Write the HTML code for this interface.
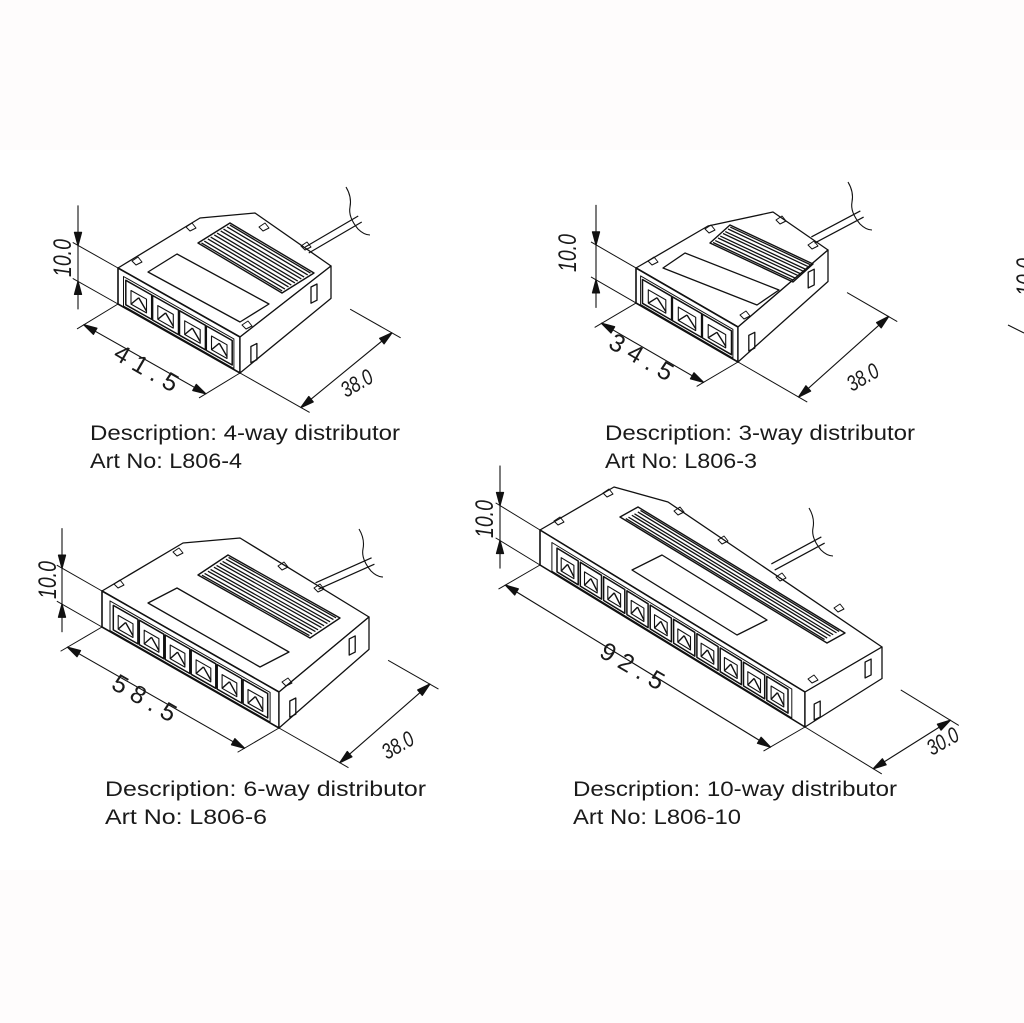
<!DOCTYPE html>
<html><head><meta charset="utf-8"><style>
html,body{margin:0;padding:0;background:#fff;}
svg{display:block}
text{font-family:"Liberation Sans",sans-serif;fill:#1a1a1a}
</style></head><body>
<svg id="s" width="1024" height="1023" viewBox="0 0 1024 1023" xmlns="http://www.w3.org/2000/svg">
<rect x="0" y="0" width="1024" height="150" fill="#fefcfc"/>
<rect x="0" y="870" width="1024" height="153" fill="#fefcfc"/>
<g id="g" stroke="#111" fill="none" stroke-width="1.3" stroke-linejoin="round"></g>
<g font-size="21">
<text x="90" y="440" textLength="310" lengthAdjust="spacingAndGlyphs">Description: 4-way distributor</text>
<text x="90" y="468" textLength="152" lengthAdjust="spacingAndGlyphs">Art No: L806-4</text>
<text x="605" y="440" textLength="310" lengthAdjust="spacingAndGlyphs">Description: 3-way distributor</text>
<text x="605" y="468" textLength="152" lengthAdjust="spacingAndGlyphs">Art No: L806-3</text>
<text x="105" y="796" textLength="321" lengthAdjust="spacingAndGlyphs">Description: 6-way distributor</text>
<text x="105" y="824" textLength="162" lengthAdjust="spacingAndGlyphs">Art No: L806-6</text>
<text x="573" y="796" textLength="324" lengthAdjust="spacingAndGlyphs">Description: 10-way distributor</text>
<text x="573" y="824" textLength="168" lengthAdjust="spacingAndGlyphs">Art No: L806-10</text>
</g>
<g font-size="25" font-style="italic">
<text transform="translate(71,277) rotate(-90) scale(0.78,1)">10.0</text>
<text transform="translate(576,272) rotate(-90) scale(0.78,1)">10.0</text>
<text transform="translate(56,599) rotate(-90) scale(0.78,1)">10.0</text>
<text transform="translate(493,538) rotate(-90) scale(0.78,1)">10.0</text>
<text transform="translate(1034,296) rotate(-90) scale(0.78,1)">10.0</text>
</g>
<g font-size="22" font-style="italic">
<text transform="translate(346,398) rotate(-30) scale(0.78,1)">38.0</text>
<text transform="translate(852,392) rotate(-30) scale(0.78,1)">38.0</text>
<text transform="translate(387,760) rotate(-30) scale(0.78,1)">38.0</text>
<text transform="translate(932,756) rotate(-30) scale(0.78,1)">30.0</text>
</g>
<g font-size="25">
<text transform="translate(112,358) rotate(30)" letter-spacing="7">41.5</text>
<text transform="translate(607,347) rotate(30)" letter-spacing="7">34.5</text>
<text transform="translate(110,688) rotate(30)" letter-spacing="7">58.5</text>
<text transform="translate(598,656) rotate(30)" letter-spacing="7">92.5</text>
</g>
</svg>
<script>
var g=document.getElementById('g');
function el(t,a){var e=document.createElementNS('http://www.w3.org/2000/svg',t);for(var k in a)e.setAttribute(k,a[k]);g.appendChild(e);return e;}
function add(){var r=[0,0];for(var i=0;i<arguments.length;i++){r[0]+=arguments[i][0];r[1]+=arguments[i][1];}return r;}
function mul(v,s){return [v[0]*s,v[1]*s];}
function nrm(v){var l=Math.hypot(v[0],v[1]);return [v[0]/l,v[1]/l];}
function poly(pts,extra){var a={points:pts.map(function(p){return p[0].toFixed(1)+','+p[1].toFixed(1)}).join(' ')};for(var k in extra)a[k]=extra[k];return el('polygon',a);}
function line(a,b,w){return el('line',{x1:a[0],y1:a[1],x2:b[0],y2:b[1],'stroke-width':w||1.1});}
function arrow(tip,from){var dx=tip[0]-from[0],dy=tip[1]-from[1],L=Math.hypot(dx,dy);dx/=L;dy/=L;var l=13,w=3.5;
 var b=[tip[0]-dx*l,tip[1]-dy*l];poly([tip,[b[0]-dy*w,b[1]+dx*w],[b[0]+dy*w,b[1]-dx*w]],{fill:'#111'});}
function dim(a,b){line(a,b,1.1);arrow(a,b);arrow(b,a);}
function para(o,u,d){return [o,add(o,u),add(o,u,d),add(o,d)];}
function unit(p){
 var A=p.A,B=p.B,h=p.h,H=[0,h],W=[B[0]-A[0],B[1]-A[1]];
 var Ah=add(A,H),Bh=add(B,H),Cb=p.Cb,Cbh=add(Cb,[0,h*0.9]);
 poly([A,B,Cb,p.M,p.E],{fill:'#fff','stroke-width':1.3});
 poly([A,B,Bh,Ah],{fill:'#fff','stroke-width':1.6});
 poly([B,Cb,Cbh,Bh],{fill:'#fff','stroke-width':1.3});
 var f=function(u,v){return add(A,mul(W,u),[0,h*v]);};
 var RD=[Cb[0]-B[0],Cb[1]-B[1]];
 var r1=add(B,mul(RD,0.12)),r2=add(B,mul(RD,0.78));
 poly([add(r1,[0,h*0.5]),add(r1,[6,h*0.5-3]),add(r1,[6,h*0.95-3]),add(r1,[0,h*0.95])]);
 poly([add(r2,[0,h*0.15]),add(r2,[6,h*0.15-3]),add(r2,[6,h*0.6-3]),add(r2,[0,h*0.6])]);
 var n=p.n,u0=0.06,u1=0.94,cw=(u1-u0)/n;
 poly([f(u0-0.015,0.15),f(u1+0.01,0.15),f(u1+0.01,0.97),f(u0-0.015,0.97)],{'stroke-width':1});
 for(var i=0;i<n;i++){var a=u0+i*cw+0.004,b=u0+(i+1)*cw-0.004;
  poly([f(a,0.22),f(b,0.22),f(b,0.9),f(a,0.9)],{'stroke-width':1.5});
  var m=(a+b)/2,q=(b-a)*0.3;
  poly([f(m-q,0.42),f(m+q,0.42),f(m+q,0.8),f(m-q,0.8)],{'stroke-width':1.1});
  line(f(m-q,0.8),f(m,0.5),1.4);line(f(m,0.5),f(m+q,0.75),1.4);}
 poly(para(p.l0,p.lu,p.ld));
 poly(para(p.g0,p.gu,p.gd),{'stroke-width':1.4});
 var k=p.gk;for(var j=1;j<=k;j++){var v=(j-0.5)/k,dv=0.22/k;
  var s1=add(p.g0,mul(p.gd,v-dv)),s2=add(p.g0,mul(p.gd,v+dv));
  line(add(s1,mul(p.gu,0.02)),add(s1,mul(p.gu,0.98)),1.3);line(add(s2,mul(p.gu,0.02)),add(s2,mul(p.gu,0.98)),1.3);}
 p.tabs.forEach(function(c){poly([add(c,[-4,-1]),add(c,[2,-5]),add(c,[6,0]),add(c,[0,3])],{'stroke-width':1});});
 var cs=p.c0,ce=p.c1,cn=nrm([ce[0]-cs[0],ce[1]-cs[1]]),pp=[-cn[1]*3.5,cn[0]*3.5];
 line(add(cs,pp),add(ce,pp),1.2);line(add(cs,mul(pp,-1)),add(ce,mul(pp,-1)),1.2);
 el('path',{d:'M'+(ce[0]-14)+','+(ce[1]-32)+' q6,10 4,20 q-2,10 8,22 q6,6 12,6','stroke-width':1.1});
 // height dim
 var Wn=nrm(W),x=A[0]-40,t1=A[1]-40*Wn[1]/Wn[0],t2=t1+h;
 line(A,add(A,mul(Wn,-52)),1);line(Ah,add(Ah,mul(Wn,-52)),1);
 line([x,t1-40],[x,t2+28],1.1);arrow([x,t1],[x,t1-30]);arrow([x,t2],[x,t2+30]);
 // width dim
 var Dn=nrm(p.D);
 line(Ah,add(Ah,mul(Dn,-48)),1);line(Bh,add(Bh,mul(Dn,-48)),1);
 dim(add(Ah,mul(Dn,-40)),add(Bh,mul(Dn,-40)));
 // depth dim
 var s=p.so||70;
 line(Bh,add(Bh,mul(Wn,s+10)),1);line(add(Cbh,mul(Wn,22)),add(Cbh,mul(Wn,s+10)),1);
 dim(add(Bh,mul(Wn,s)),add(Cbh,mul(Wn,s)));
}
unit({A:[118,268],B:[240,337],h:36,n:4,E:[200,218],M:[255,213],Cb:[331,266],D:[82,-50],
 g0:[198,243],gu:[84,50],gd:[32,-20],gk:5,l0:[148,272],lu:[92,50],ld:[29,-18],
 tabs:[[136,262],[190,228],[263,228],[305,247],[246,326]],c0:[307,250],c1:[360,219]});
unit({A:[636,268],B:[738,327],h:35,n:3,E:[708,226],M:[773,212],Cb:[828,250],D:[78,-46],
 g0:[710,243],gu:[83,39],gd:[20,-18],gk:4,l0:[663,268],lu:[94,37],ld:[22,-15],
 tabs:[[652,262],[709,230],[780,221],[812,246],[744,316]],c0:[813,240],c1:[862,214]});
unit({A:[102,591],B:[279,692],h:36,n:6,E:[183,543],M:[240,538],Cb:[369,617],D:[82,-48],
 g0:[198,575],gu:[112,63],gd:[30,-20],gk:5,l0:[148,603],lu:[112,64],ld:[29,-15],
 tabs:[[118,585],[177,553],[282,567],[318,589],[286,683]],c0:[317,586],c1:[373,561]});
unit({A:[540,530],B:[805,692],h:35,n:10,E:[614,487],M:[668,502],Cb:[882,647],D:[74,-43],
 g0:[620,517],gu:[207,126],gd:[18,-10],gk:3,l0:[632,570],lu:[105,65],ld:[30,-15],
 tabs:[[558,522],[607,494],[678,512],[722,541],[780,578],[838,609],[812,680]],c0:[773,567],c1:[823,540],so:80});
line([1008,325],[1024,333],1.1);
</script>
</body></html>
